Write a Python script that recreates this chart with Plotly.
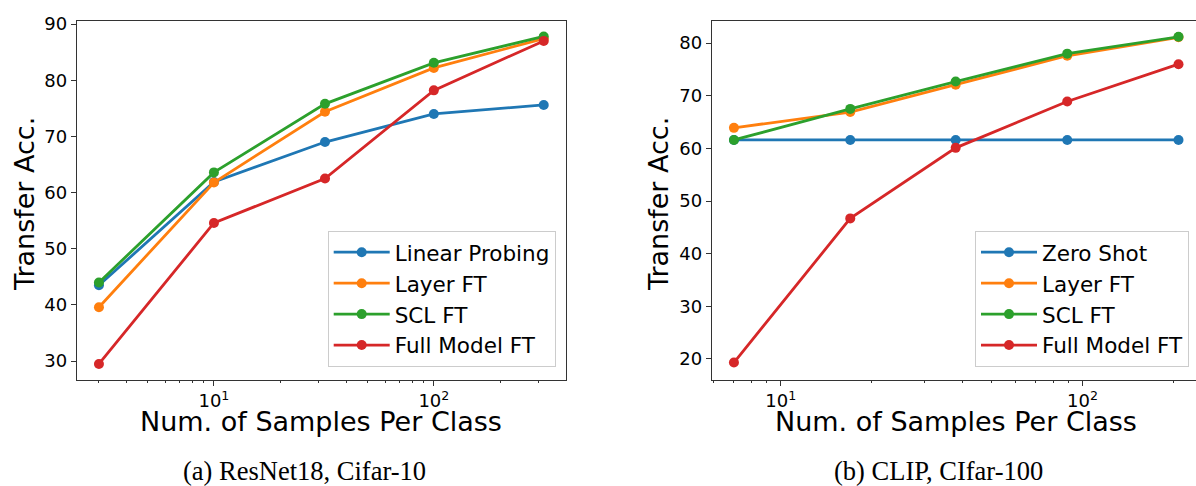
import plotly.graph_objects as go

# ---------------- data ----------------
x_left = [3, 10, 32, 100, 316]
left_linear_probing = [43.5, 61.9, 69.0, 74.0, 75.6]
left_layer_ft = [39.6, 61.8, 74.4, 82.2, 87.4]
left_scl_ft = [44.0, 63.6, 75.8, 83.1, 87.8]
left_full_ft = [29.5, 54.6, 62.5, 78.2, 87.0]

x_right = [7, 17, 38, 89, 208]
right_zero_shot = [61.6, 61.6, 61.6, 61.6, 61.6]
right_layer_ft = [63.9, 66.9, 72.1, 77.6, 81.1]
right_scl_ft = [61.6, 67.5, 72.7, 78.0, 81.2]
right_full_ft = [19.3, 46.7, 60.1, 68.9, 76.0]

left_names = ["Linear Probing", "Layer FT", "SCL FT", "Full Model FT"]
right_names = ["Zero Shot", "Layer FT", "SCL FT", "Full Model FT"]
colors = ["#1f77b4", "#ff7f0e", "#2ca02c", "#d62728"]

x_tick_vals = [10, 100]
x_tick_text = ["10<sup>1</sup>", "10<sup>2</sup>"]
left_y_ticks = [30, 40, 50, 60, 70, 80, 90]
right_y_ticks = [20, 30, 40, 50, 60, 70, 80]
minor_vals = [k * 10 ** e for e in (0, 1, 2) for k in range(2, 10)]

y_title = "Transfer Acc."
x_title = "Num. of Samples Per Class"
caption_left = "(a) ResNet18, Cifar-10"
caption_right = "(b) CLIP, CIfar-100"

W, H = 1196, 486
SANS = "DejaVu Sans"
SERIF = "Liberation Serif"

fig = go.Figure()

for name, ys, c in zip(left_names, [left_linear_probing, left_layer_ft, left_scl_ft, left_full_ft], colors):
    fig.add_trace(go.Scatter(x=x_left, y=ys, name=name, mode="lines+markers",
                             line=dict(color=c, width=2.8), marker=dict(color=c, size=10),
                             xaxis="x", yaxis="y", legend="legend"))

for name, ys, c in zip(right_names, [right_zero_shot, right_layer_ft, right_scl_ft, right_full_ft], colors):
    fig.add_trace(go.Scatter(x=x_right, y=ys, name=name, mode="lines+markers",
                             line=dict(color=c, width=2.8), marker=dict(color=c, size=10),
                             xaxis="x2", yaxis="y2", legend="legend2"))

tickfont = dict(family=SANS, size=18, color="black")
common_x = dict(type="log", showgrid=False, zeroline=False, showline=True, linecolor="#333",
                linewidth=1, mirror=True, ticks="outside", ticklen=5, tickwidth=1, tickcolor="#333",
                tickvals=x_tick_vals, ticktext=x_tick_text, tickfont=tickfont,
                minor=dict(tickvals=minor_vals, ticks="outside", ticklen=2.5, tickwidth=0.8,
                           tickcolor="#333", showgrid=False))
common_y = dict(showgrid=False, zeroline=False, showline=True, linecolor="#333", linewidth=1,
                ticks="outside", ticklen=5, tickwidth=1, tickcolor="#333", tickfont=tickfont)

y_dom = [1 - 378.3 / H, 1 - 14 / H]

legend_common = dict(font=dict(family=SANS, size=21.5, color="black"),
                     bgcolor="rgba(255,255,255,0.8)", bordercolor="#cccccc", borderwidth=1,
                     itemwidth=56,
                     xanchor="right", yanchor="bottom", y=1 - 365 / H)

fig.update_layout(
    width=W, height=H, margin=dict(l=0, r=0, t=0, b=0),
    paper_bgcolor="white", plot_bgcolor="white",
    xaxis=dict(common_x, domain=[76.7 / W, 566 / W], range=[0.376, 2.601], anchor="y"),
    yaxis=dict(common_y, domain=y_dom, range=[26.67, 90.58], tickvals=left_y_ticks, mirror=True, anchor="x"),
    xaxis2=dict(common_x, domain=[711.7 / W, 1.0], range=[0.7714, 2.376], anchor="y2"),
    yaxis2=dict(common_y, domain=y_dom, range=[16.02, 84.24], tickvals=right_y_ticks, mirror=False, anchor="x2"),
    legend=dict(legend_common, x=555.7 / W),
    legend2=dict(legend_common, x=1189 / W),
    showlegend=True,
)

ann_font = dict(family=SANS, size=27, color="black")
cap_font = dict(family=SERIF, size=26.5, color="black")
annotations = [
    dict(text=y_title, x=24 / W, y=1 - 200 / H, textangle=-90, font=ann_font),
    dict(text=y_title, x=658 / W, y=1 - 200 / H, textangle=-90, font=ann_font),
    dict(text=x_title, x=321.4 / W, y=1 - 420.7 / H, font=ann_font),
    dict(text=x_title, x=956 / W, y=1 - 420.7 / H, font=ann_font),
    dict(text=caption_left, x=304 / W, y=1 - 470.5 / H, font=cap_font),
    dict(text=caption_right, x=938.7 / W, y=1 - 470.5 / H, font=cap_font),
]
for a in annotations:
    a.update(xref="paper", yref="paper", xanchor="center", yanchor="middle", showarrow=False)
fig.update_layout(annotations=annotations)

fig.write_html("out.html")
